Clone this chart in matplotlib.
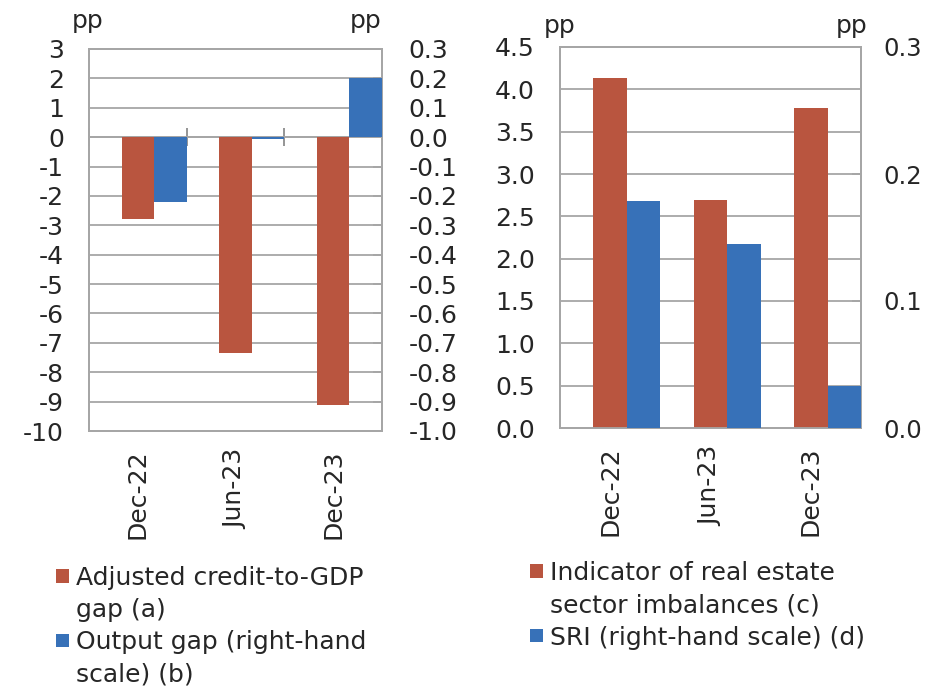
import numpy as np
import matplotlib
matplotlib.use("Agg")
import matplotlib.pyplot as plt
from matplotlib.patches import Patch

periods = ["Dec-22", "Jun-23", "Dec-23"]
credit_gap = [-2.8, -7.35, -9.1]       # pp, left scale
output_gap = [-0.22, -0.007, 0.2]      # pp, right scale
real_estate = [4.13, 2.69, 3.78]       # pp, left scale
sri = [0.179, 0.145, 0.033]            # pp, right scale

left_ticks = np.arange(-10, 4, 1)
left_ticks_r = np.round(np.arange(-1.0, 0.31, 0.1), 1) + 0.0
right_ticks = np.round(np.arange(0, 4.51, 0.5), 1)
right_ticks_r = [0.0, 0.1, 0.2, 0.3]

legend_left = ["Adjusted credit-to-GDP", "gap (a)", "Output gap (right-hand", "scale) (b)"]
legend_right = ["Indicator of real estate", "sector imbalances (c)", "SRI (right-hand scale) (d)"]

RED = "#b9553f"
BLUE = "#3771b8"
GRID = "#a6a6a6"
TXT = "#262626"
FS = 18
W, H = 925, 694

plt.rcParams["font.family"] = ["DejaVu Sans"]
plt.rcParams["text.color"] = TXT
plt.rcParams["xtick.color"] = TXT
plt.rcParams["ytick.color"] = TXT


def px(x, y):
    return x / W, 1 - y / H


def bar_panel(fig, rect, red_vals, blue_vals, yt, yt2, fmt, fmt2, pad2=19, fs2=FS):
    ax = fig.add_axes(rect)
    ax2 = ax.twinx()
    x = np.arange(len(periods))
    w = 1 / 3
    ax.bar(x, red_vals, w, color=RED, zorder=3)
    ax2.bar(x + w, blue_vals, w, color=BLUE, zorder=3)
    ax.set_xlim(-0.5, len(periods) - 0.5)

    ax.set_ylim(yt[0], yt[-1])
    ax.set_yticks(yt, [fmt.format(v) for v in yt])
    ax2.set_ylim(yt2[0], yt2[-1])
    ax2.set_yticks(yt2, [fmt2.format(v) for v in yt2])

    ax.grid(axis="y", color=GRID, lw=1.3)
    ax.set_axisbelow(True)
    ax.tick_params(axis="y", length=0, pad=18, labelsize=FS)
    ax2.tick_params(axis="y", direction="in", length=6.5, width=1.3, color=GRID,
                    pad=pad2, labelsize=fs2)
    ax.set_xticks(x, periods, rotation=90)
    ax.tick_params(axis="x", length=0, pad=13, labelsize=FS)
    for a in (ax, ax2):
        for s in a.spines.values():
            s.set_color(GRID)
            s.set_linewidth(1.3)
    return ax, ax2


fig = plt.figure(figsize=(9.25, 6.94), dpi=100)

# left panel
axl, axl2 = bar_panel(fig, [89 / W, (H - 431) / H, 293 / W, 382 / H],
                      credit_gap, output_gap, left_ticks, left_ticks_r,
                      "{:d}", "{:.1f}")
# category axis crossing at zero
sec = axl.secondary_xaxis(0, transform=axl.get_yaxis_transform())
sec.set_xticks(np.arange(len(periods) + 1) - 0.5, [])
sec.tick_params(direction="inout", length=13, width=1.3, color="#8c8c8c")
sec.spines["bottom"].set_color(GRID)
sec.spines["bottom"].set_linewidth(1.3)

# right panel
axr, axr2 = bar_panel(fig, [560 / W, (H - 428) / H, 301 / W, 381 / H],
                      real_estate, sri, right_ticks, right_ticks_r,
                      "{:.1f}", "{:.1f}", pad2=16, fs2=17.5)

fig.text(*px(72, 28), "pp", fontsize=FS, ha="left", va="baseline")
fig.text(*px(382, 28), "pp", fontsize=FS, ha="right", va="baseline")
fig.text(*px(544, 33), "pp", fontsize=FS, ha="left", va="baseline")
fig.text(*px(867, 33), "pp", fontsize=FS, ha="right", va="baseline")

blank = Patch(facecolor="none", edgecolor="none")
leg_kw = dict(loc="upper left", frameon=False, fontsize=18, handlelength=0.5,
              handleheight=0.45, handletextpad=0.3, labelspacing=0.33,
              borderpad=0, borderaxespad=0)
fig.legend([Patch(facecolor=RED), blank, Patch(facecolor=BLUE), blank],
           legend_left, bbox_to_anchor=px(56, 566), **leg_kw)
fig.legend([Patch(facecolor=RED), blank, Patch(facecolor=BLUE)],
           legend_right, bbox_to_anchor=px(530, 561), **leg_kw)

fig.savefig("out.png", dpi=100)
